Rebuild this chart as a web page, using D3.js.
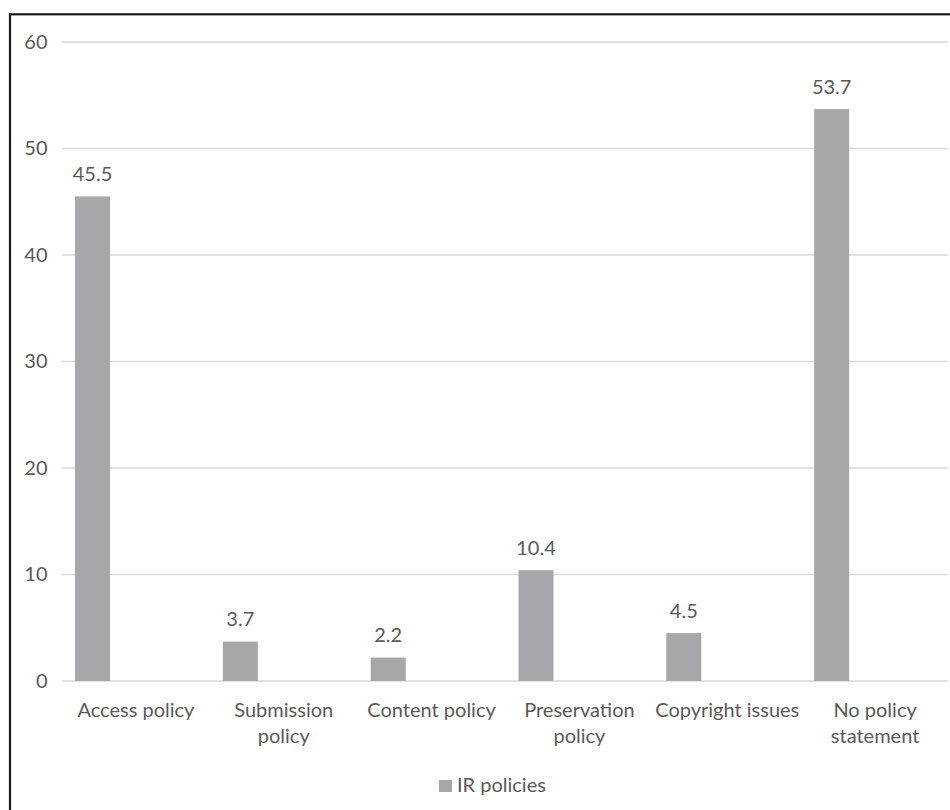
<!DOCTYPE html>
<html>
<head>
<meta charset="utf-8">
<script src="https://cdn.jsdelivr.net/npm/d3@7"></script>
<style>
  html, body { margin: 0; padding: 0; background: #fff; }
  svg { display: block; }
  text { font-family: Lato, "Open Sans", sans-serif; fill: #595959; }
</style>
</head>
<body>
<div id="chart"></div>
<script>
// IR policy statements (percent of repositories)
const categories = ["Access policy", "Submission policy", "Content policy",
                    "Preservation policy", "Copyright issues", "No policy statement"];
const values = [45.5, 3.7, 2.2, 10.4, 4.5, 53.7];
const tickLabels = [["Access policy"], ["Submission", "policy"], ["Content policy"],
                    ["Preservation", "policy"], ["Copyright issues"], ["No policy", "statement"]];
const yTicks = [0, 10, 20, 30, 40, 50, 60];
const seriesName = "IR policies";

const W = 950, H = 810;
const fontSize = 20;
const barColor = "#a7a7a9";

const svg = d3.select("#chart").append("svg")
  .attr("width", W).attr("height", H);

// frame around the chart area
svg.append("rect")
  .attr("x", 10).attr("y", 14.3)
  .attr("width", W + 20).attr("height", H + 20)
  .attr("fill", "none").attr("stroke", "#1a1a1a").attr("stroke-width", 2.2);

const x = d3.scaleBand()
  .domain(categories)
  .range([62, 949]);

const y = d3.scaleLinear()
  .domain([0, 60])
  .range([681, 42]);

// horizontal gridlines
svg.append("g").selectAll("line")
  .data(yTicks)
  .join("line")
  .attr("x1", 62).attr("x2", 948)
  .attr("y1", d => y(d)).attr("y2", d => y(d))
  .attr("stroke", "#d9d9d9").attr("stroke-width", 1.5);

// y axis labels
const yAxis = d3.axisLeft(y).tickValues(yTicks).tickSize(0).tickPadding(0);
const gy = svg.append("g").attr("transform", "translate(47.5,0)").call(yAxis);
gy.select(".domain").remove();
gy.selectAll("text")
  .style("font-family", "Lato, 'Open Sans', sans-serif")
  .attr("font-size", fontSize).attr("fill", "#595959");

// bars sit in the left part of each category slot
const barOffset = 13, barWidth = 35;
svg.append("g").selectAll("rect")
  .data(values)
  .join("rect")
  .attr("x", (d, i) => x(categories[i]) + barOffset)
  .attr("width", barWidth)
  .attr("y", d => y(d))
  .attr("height", d => y(0) - y(d))
  .attr("fill", barColor);

// value labels
svg.append("g").selectAll("text")
  .data(values)
  .join("text")
  .attr("x", (d, i) => x(categories[i]) + barOffset + barWidth / 2)
  .attr("y", d => y(d) - 15.5)
  .attr("text-anchor", "middle")
  .attr("font-size", fontSize)
  .text(d => d3.format(".1f")(d));

// category labels
const xl = svg.append("g").selectAll("text")
  .data(tickLabels)
  .join("text")
  .attr("x", (d, i) => x(categories[i]) + x.bandwidth() / 2)
  .attr("y", 717)
  .attr("text-anchor", "middle")
  .attr("font-size", fontSize);
xl.selectAll("tspan")
  .data(d => d)
  .join("tspan")
  .attr("x", function() { return d3.select(this.parentNode).attr("x"); })
  .attr("dy", (d, i) => i === 0 ? 0 : 26)
  .text(d => d);

// legend
const lg = svg.append("g").attr("transform", "translate(439,792)");
lg.append("rect").attr("x", 0).attr("y", -12).attr("width", 13).attr("height", 12).attr("fill", barColor);
lg.append("text").attr("x", 18).attr("y", 0).attr("font-size", fontSize).text(seriesName);
</script>
</body>
</html>
